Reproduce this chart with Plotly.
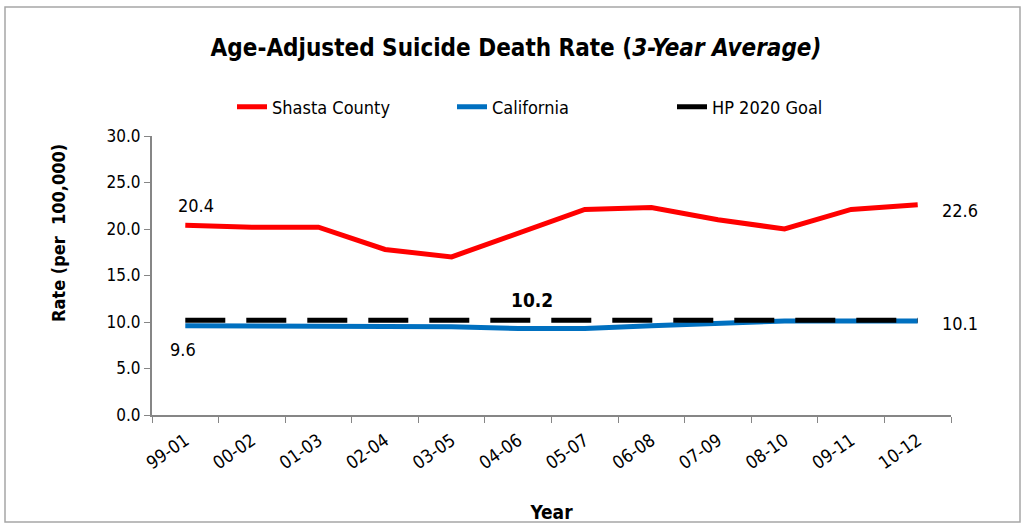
import plotly.graph_objects as go

periods = ["99-01", "00-02", "01-03", "02-04", "03-05", "04-06",
           "05-07", "06-08", "07-09", "08-10", "09-11", "10-12"]
shasta = [20.4, 20.2, 20.2, 17.8, 17.0, 19.6, 22.1, 22.3, 21.0, 20.0, 22.1, 22.6]
california = [9.6, 9.6, 9.6, 9.6, 9.5, 9.3, 9.3, 9.6, 9.9, 10.1, 10.1, 10.1]
hp_goal = [10.2] * len(periods)

FONT = "Liberation Sans Narrow, DejaVu Sans Condensed, Arial Narrow, sans-serif"

W, H = 1024, 523
L, R, T, B = 152, 73, 136, 108
pw, ph = W - L - R, H - T - B

fig = go.Figure()
fig.add_trace(go.Scatter(x=periods, y=shasta, name="Shasta County", mode="lines",
                         line=dict(color="#ff0000", width=5)))
fig.add_trace(go.Scatter(x=periods, y=california, name="California", mode="lines",
                         line=dict(color="#0070c0", width=5)))
fig.add_trace(go.Scatter(x=periods, y=hp_goal, name="HP 2020 Goal", mode="lines",
                         line=dict(color="#000000", width=5, dash="40px,21px")))

# data labels
fig.add_annotation(x=periods[0], y=shasta[0], text="20.4", showarrow=False,
                   yshift=20, xshift=11, font=dict(size=18))
fig.add_annotation(x=periods[-1], y=shasta[-1], text="22.6", showarrow=False,
                   xanchor="left", xshift=22, yshift=-6, font=dict(size=18))
fig.add_annotation(x=periods[0], y=california[0], text="9.6", showarrow=False,
                   yshift=-24, xshift=-2, font=dict(size=18))
fig.add_annotation(x=periods[-1], y=california[-1], text="10.1", showarrow=False,
                   xanchor="left", xshift=22, yshift=-2, font=dict(size=18))
fig.add_annotation(x=periods[5], y=hp_goal[5], text="<b>10.2</b>", showarrow=False,
                   yshift=20, xshift=14, font=dict(size=19))

# y axis title (sits above the plot centre, as in the original)
fig.add_annotation(xref="paper", yref="paper", x=(58 - L) / pw, y=(H - 233 - B) / ph,
                   xanchor="center", yanchor="middle",
                   text="<b>Rate (per  100,000)</b>", textangle=-90, showarrow=False,
                   font=dict(size=18))

# outer border
fig.add_shape(type="rect", xref="paper", yref="paper",
              x0=(5 - L) / pw, x1=(1020 - L) / pw,
              y0=(H - 522 - B) / ph, y1=(H - 7 - B) / ph,
              line=dict(color="#a6a6a6", width=1.5))

fig.update_layout(
    width=W, height=H,
    margin=dict(l=L, r=R, t=T, b=B),
    paper_bgcolor="white", plot_bgcolor="white",
    font=dict(family=FONT, size=17, color="black"),
    title=dict(text="<b>Age-Adjusted Suicide Death Rate (<i>3-Year Average)</i></b>",
               x=516 / W, xref="container", y=1 - 48 / H, yanchor="middle",
               font=dict(size=24)),
    legend=dict(orientation="h", x=(232 - L) / pw, xanchor="left", y=1 + 29 / ph,
                yanchor="middle", font=dict(size=18),
                entrywidth=175, entrywidthmode="pixels"),
    showlegend=True,
)
fig.update_xaxes(
    type="category", range=[-0.5, len(periods) - 0.5],
    showline=True, linecolor="#868686", linewidth=2,
    ticks="outside", tickcolor="#868686", ticklen=6, tickson="boundaries",
    tickangle=-35, tickfont=dict(size=18), ticklabelstandoff=6,
    showgrid=False, automargin=False,
    title=dict(text="<b>Year</b>", font=dict(size=19), standoff=34),
)
fig.update_yaxes(
    range=[0, 30], dtick=5, tickformat=".1f",
    showline=True, linecolor="#868686", linewidth=2,
    ticks="outside", tickcolor="#868686", ticklen=6, showgrid=False,
    zeroline=False, automargin=False,
)

fig.write_html("out.html", config={"displayModeBar": False},
               post_script="document.body.style.margin='0';")
